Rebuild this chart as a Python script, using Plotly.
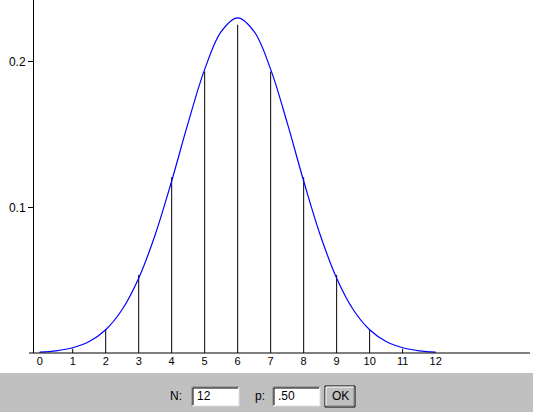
import plotly.graph_objects as go

# binomial probabilities for N=12, p=.50 (bar heights)
k_values = [0, 1, 2, 3, 4, 5, 6, 7, 8, 9, 10, 11, 12]
probs = [0.0002, 0.0029, 0.0161, 0.0537, 0.1208, 0.1934, 0.2256,
         0.1934, 0.1208, 0.0537, 0.0161, 0.0029, 0.0002]

# normal approximation curve
curve_x = [0, 0.5, 1, 1.5, 2, 2.5, 3, 3.5, 4, 4.5, 5, 5.5, 6,
           6.5, 7, 7.5, 8, 8.5, 9, 9.5, 10, 10.5, 11, 11.5, 12]
curve_y = [0.0006, 0.0015, 0.0036, 0.0079, 0.0160, 0.0299, 0.0514, 0.0813,
           0.1182, 0.1583, 0.1949, 0.2209, 0.2303, 0.2209, 0.1949, 0.1583,
           0.1182, 0.0813, 0.0514, 0.0299, 0.0160, 0.0079, 0.0036, 0.0015, 0.0006]

x_ticks = list(range(13))
y_ticks = [0.1, 0.2]
y_labels = ['0.1', '0.2']

N_text = '12'
p_text = '.50'

W, H = 536, 416
ML, MR, MT, MB = 34, 6, 0, 63
PW, PH = W - ML - MR, H - MT - MB


def px(x):
    return (x - ML) / PW


def py(y):
    return (H - MB - y) / PH


bar_x, bar_y = [], []
for k, p in zip(k_values, probs):
    bar_x += [k, k, None]
    bar_y += [0, p, None]

fig = go.Figure()
fig.add_trace(go.Scatter(x=bar_x, y=bar_y, mode='lines',
                         line=dict(color='black', width=1), hoverinfo='skip'))
fig.add_trace(go.Scatter(x=curve_x, y=curve_y, mode='lines',
                         line=dict(color='#0000ff', width=1.2, shape='spline')))

shapes = []
# grey control strip
shapes.append(dict(type='rect', xref='paper', yref='paper',
                   x0=px(0), x1=px(533), y0=py(412), y1=py(373),
                   fillcolor='#c0c0c0', line=dict(width=0), layer='below'))


def text_box(x0, x1, y0, y1):
    out = [dict(type='rect', xref='paper', yref='paper',
                x0=px(x0), x1=px(x1), y0=py(y1), y1=py(y0),
                fillcolor='white', line=dict(width=0))]
    # sunken border
    out.append(dict(type='line', xref='paper', yref='paper', x0=px(x0), x1=px(x1),
                    y0=py(y0), y1=py(y0), line=dict(color='#808080', width=1)))
    out.append(dict(type='line', xref='paper', yref='paper', x0=px(x0), x1=px(x0),
                    y0=py(y0), y1=py(y1), line=dict(color='#808080', width=1)))
    out.append(dict(type='line', xref='paper', yref='paper', x0=px(x0 + 1), x1=px(x1 - 1),
                    y0=py(y0 + 1), y1=py(y0 + 1), line=dict(color='black', width=1)))
    out.append(dict(type='line', xref='paper', yref='paper', x0=px(x0 + 1), x1=px(x0 + 1),
                    y0=py(y0 + 1), y1=py(y1 - 1), line=dict(color='black', width=1)))
    out.append(dict(type='line', xref='paper', yref='paper', x0=px(x0), x1=px(x1),
                    y0=py(y1), y1=py(y1), line=dict(color='#dfdfdf', width=1)))
    out.append(dict(type='line', xref='paper', yref='paper', x0=px(x1), x1=px(x1),
                    y0=py(y0), y1=py(y1), line=dict(color='#dfdfdf', width=1)))
    return out


shapes += text_box(192, 239, 387, 406)
shapes += text_box(273, 320, 387, 406)

# OK button, raised
bx0, bx1, by0, by1 = 325, 355, 386, 407
shapes.append(dict(type='rect', xref='paper', yref='paper',
                   x0=px(bx0), x1=px(bx1), y0=py(by1), y1=py(by0),
                   fillcolor='#c0c0c0', line=dict(color='black', width=1)))
shapes.append(dict(type='line', xref='paper', yref='paper', x0=px(bx0 + 1), x1=px(bx1 - 1),
                   y0=py(by0 + 1), y1=py(by0 + 1), line=dict(color='white', width=1)))
shapes.append(dict(type='line', xref='paper', yref='paper', x0=px(bx0 + 1), x1=px(bx0 + 1),
                   y0=py(by0 + 1), y1=py(by1 - 1), line=dict(color='white', width=1)))
shapes.append(dict(type='line', xref='paper', yref='paper', x0=px(bx0 + 1), x1=px(bx1 - 1),
                   y0=py(by1 - 1), y1=py(by1 - 1), line=dict(color='#808080', width=1)))
shapes.append(dict(type='line', xref='paper', yref='paper', x0=px(bx1 - 1), x1=px(bx1 - 1),
                   y0=py(by0 + 1), y1=py(by1 - 1), line=dict(color='#808080', width=1)))

# x axis line reaches a bit left of the y axis
shapes.append(dict(type='line', xref='paper', yref='paper', x0=px(29), x1=px(530),
                   y0=0, y1=0, line=dict(color='black', width=1)))

font = dict(family='Liberation Sans, Arial, sans-serif', size=12, color='black')
annotations = [
    dict(text='N:', x=px(184), y=py(396), xref='paper', yref='paper',
         xanchor='right', yanchor='middle', showarrow=False, font=font),
    dict(text=N_text, x=px(195), y=py(396), xref='paper', yref='paper',
         xanchor='left', yanchor='middle', showarrow=False, font=font),
    dict(text='p:', x=px(267), y=py(396), xref='paper', yref='paper',
         xanchor='right', yanchor='middle', showarrow=False, font=font),
    dict(text=p_text, x=px(276), y=py(396), xref='paper', yref='paper',
         xanchor='left', yanchor='middle', showarrow=False, font=font),
    dict(text='OK', x=px(340), y=py(396), xref='paper', yref='paper',
         xanchor='center', yanchor='middle', showarrow=False, font=font),
]

fig.update_layout(
    width=W, height=H,
    margin=dict(l=ML, r=MR, t=MT, b=MB, pad=0, autoexpand=False),
    paper_bgcolor='white',
    plot_bgcolor='white',
    showlegend=False,
    shapes=shapes,
    annotations=annotations,
    xaxis=dict(
        range=[-0.173, 14.86],
        tickvals=x_ticks,
        ticks='',
        showgrid=False,
        zeroline=False,
        showline=False,
        automargin=False,
        tickfont=dict(family='Liberation Sans, Arial, sans-serif', size=11, color='black'),
    ),
    yaxis=dict(
        range=[0, 0.2426],
        tickvals=y_ticks,
        ticktext=y_labels,
        ticks='outside',
        ticklen=5,
        tickcolor='black',
        showgrid=False,
        zeroline=False,
        showline=True,
        linecolor='black',
        linewidth=1,
        automargin=False,
        tickfont=dict(family='Liberation Sans, Arial, sans-serif', size=12, color='black'),
    ),
)

# page body has an 8px default margin; drop it so the figure fills the window
fig.write_html("out.html", config={'displayModeBar': False},
               post_script="document.body.style.margin='0';")
